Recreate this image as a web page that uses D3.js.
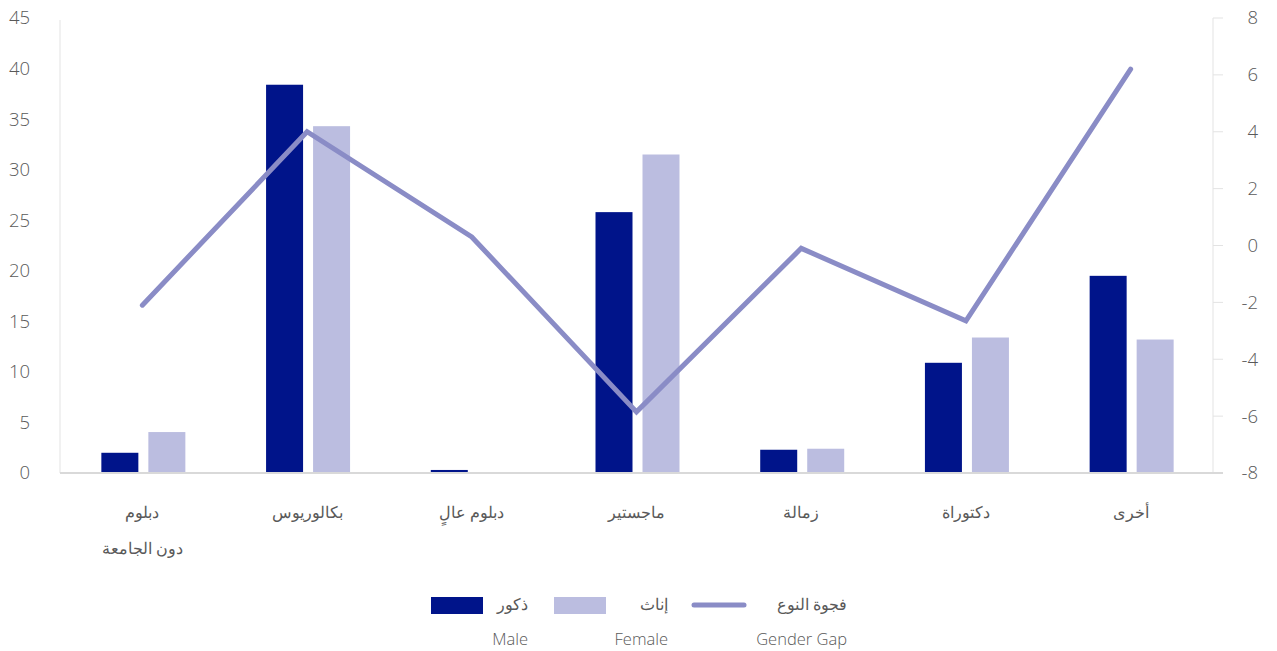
<!DOCTYPE html>
<html><head><meta charset="utf-8">
<script src="https://cdn.jsdelivr.net/npm/d3@7"></script>
<style>
body{margin:0;background:#fff;}
text{font-family:"Open Sans","Noto Sans",sans-serif;font-weight:300;}
</style></head>
<body>
<svg id="c" width="1277" height="651"></svg>
<script>
const categories = [["دبلوم","دون الجامعة"],["بكالوريوس"],["دبلوم عالٍ"],["ماجستير"],["زمالة"],["دكتوراة"],["أخرى"]];
const male = [2.0, 38.4, 0.3, 25.8, 2.3, 10.9, 19.5];
const female = [4.05, 34.3, 0, 31.5, 2.4, 13.4, 13.2];
const gap = [-2.1, 4.0, 0.3, -5.85, -0.1, -2.65, 6.2];
const leftTicks = [0,5,10,15,20,25,30,35,40,45];
const rightTicks = [-8,-6,-4,-2,0,2,4,6,8];
const legendItems = [
  {ar:"ذكور", en:"Male", type:"bar", color:"#00148a"},
  {ar:"إناث", en:"Female", type:"bar", color:"#bbbde0"},
  {ar:"فجوة النوع", en:"Gender Gap", type:"line", color:"#8a8cc6"}
];

const svg = d3.select("#c");
const L = 60, R = 1213, T = 18, B = 473;
const x = d3.scaleBand().domain(d3.range(categories.length)).range([L, R]);
const yL = d3.scaleLinear().domain([0,45]).range([B,T]);
const yR = d3.scaleLinear().domain([-8,8]).range([B,T]);
const grey = "#595959";

svg.append("line").attr("x1",L).attr("x2",L).attr("y1",yL(44.8)).attr("y2",B).attr("stroke","#e3e3e3").attr("stroke-width",1);
svg.append("line").attr("x1",R).attr("x2",R).attr("y1",T).attr("y2",B).attr("stroke","#e3e3e3").attr("stroke-width",1);
svg.append("g").selectAll("line").data(rightTicks).join("line")
  .attr("x1",R).attr("x2",R+10).attr("y1",d=>yR(d)).attr("y2",d=>yR(d)).attr("stroke","#e3e3e3");

svg.append("g").selectAll("text").data(leftTicks).join("text")
  .attr("x",30).attr("y",d=>yL(d)).attr("dy","0.35em").attr("text-anchor","end")
  .attr("font-size",18.5).attr("fill",grey).text(d=>d);
svg.append("g").selectAll("text").data(rightTicks).join("text")
  .attr("x",1258).attr("y",d=>yR(d)).attr("dy","0.35em").attr("text-anchor","end")
  .attr("font-size",18.5).attr("fill",grey).text(d=>d);

const bw = 37;
const g = svg.append("g");
g.selectAll("rect.m").data(male).join("rect").attr("class","m")
  .attr("x",(d,i)=>x(i)+x.bandwidth()/2-41).attr("width",bw)
  .attr("y",d=>yL(d)).attr("height",d=>B-yL(d)).attr("fill","#00148a");
g.selectAll("rect.f").data(female).join("rect").attr("class","f")
  .attr("x",(d,i)=>x(i)+x.bandwidth()/2+6).attr("width",bw)
  .attr("y",d=>yL(d)).attr("height",d=>B-yL(d)).attr("fill","#bbbde0");

svg.append("line").attr("x1",L).attr("x2",R+10).attr("y1",B).attr("y2",B).attr("stroke","#d9d9d9").attr("stroke-width",2);

const line = d3.line().x((d,i)=>x(i)+x.bandwidth()/2).y(d=>yR(d));
svg.append("path").datum(gap).attr("d",line).attr("fill","none")
  .attr("stroke","#8a8cc6").attr("stroke-width",5).attr("stroke-linejoin","miter").attr("stroke-linecap","round");

const xl = svg.append("g");
categories.forEach((lines,i)=>{
  lines.forEach((t,j)=>{
    xl.append("text").attr("x",x(i)+x.bandwidth()/2).attr("y",518+j*36)
      .attr("text-anchor","middle").attr("font-size",16).attr("fill",grey).text(t);
  });
});

const lg = svg.append("g");
const legX = [{sw:431, tx:528},{sw:554, tx:668},{sw:691, tx:847}];
legendItems.forEach((it,i)=>{
  const p = legX[i];
  if(it.type==="bar"){
    lg.append("rect").attr("x",p.sw).attr("y",597).attr("width",52).attr("height",17).attr("fill",it.color);
  } else {
    lg.append("line").attr("x1",p.sw+3).attr("x2",p.sw+53).attr("y1",605).attr("y2",605)
      .attr("stroke",it.color).attr("stroke-width",5).attr("stroke-linecap","round");
  }
  lg.append("text").attr("x",p.tx).attr("y",610).attr("text-anchor","end").attr("font-size",16).attr("fill",grey).text(it.ar);
  lg.append("text").attr("x",p.tx).attr("y",645).attr("text-anchor","end").attr("font-size",16.5).attr("fill",grey).text(it.en);
});
</script>
</body></html>
